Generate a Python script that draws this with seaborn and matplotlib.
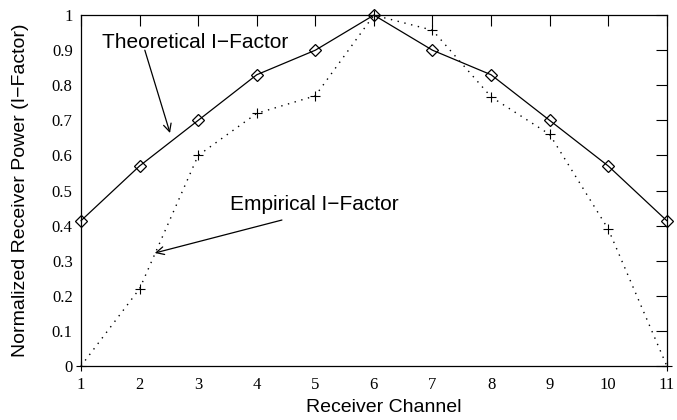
import matplotlib
matplotlib.use("Agg")
import matplotlib.pyplot as plt
import seaborn as sns
import pandas as pd

channels = [1, 2, 3, 4, 5, 6, 7, 8, 9, 10, 11]
theoretical = [0.414, 0.57, 0.70, 0.83, 0.90, 1.0, 0.90, 0.83, 0.70, 0.57, 0.414]
empirical = [0.0, 0.22, 0.60, 0.72, 0.77, 1.0, 0.957, 0.767, 0.66, 0.39, 0.0]
y_ticks = [0, 0.1, 0.2, 0.3, 0.4, 0.5, 0.6, 0.7, 0.8, 0.9, 1]
y_tick_labels = ["0", "0.1", "0.2", "0.3", "0.4", "0.5", "0.6", "0.7", "0.8", "0.9", "1"]

sns.set_theme(style="white")
plt.rcParams["font.family"] = ["Liberation Sans", "DejaVu Sans"]
plt.rcParams["text.color"] = "black"
plt.rcParams["axes.labelcolor"] = "black"
plt.rcParams["xtick.color"] = "black"
plt.rcParams["ytick.color"] = "black"

df_t = pd.DataFrame({"ch": channels, "val": theoretical})
df_e = pd.DataFrame({"ch": channels, "val": empirical})

fig = plt.figure(figsize=(6.77, 4.20), dpi=100)
ax = fig.add_axes([0.1196, 0.1286, 0.8654, 0.8354])

sns.lineplot(data=df_e, x="ch", y="val", ax=ax, color="black", linewidth=1.0,
             linestyle=(0, (1, 4)), marker="+", markersize=6.5, markeredgewidth=0.8,
             markeredgecolor="black", clip_on=False)
sns.lineplot(data=df_t, x="ch", y="val", ax=ax, color="black", linewidth=0.9,
             marker="D", markersize=6, markerfacecolor="none", markeredgecolor="black",
             markeredgewidth=0.9, clip_on=False)

ax.set_xlim(1, 11)
ax.set_ylim(0, 1)
ax.set_xticks(channels)
ax.set_xticklabels([str(c) for c in channels], family="Liberation Serif", fontsize=12)
ax.set_yticks(y_ticks)
ax.set_yticklabels(y_tick_labels, family="Liberation Serif", fontsize=12)
ax.tick_params(direction="in", top=True, right=True, length=8, width=0.8, color="black")
ax.tick_params(axis="x", pad=8)
ax.tick_params(axis="y", pad=6)
for sp in ax.spines.values():
    sp.set_color("black")
    sp.set_linewidth(0.9)

ax.set_xlabel("Receiver Channel", fontsize=14)
ax.set_ylabel("Normalized Receiver Power (I\u2212Factor)", fontsize=14)
ax.xaxis.set_label_coords(0.516, -0.095)
ax.yaxis.set_label_coords(-0.088, 0.5)

arrow = dict(arrowstyle="->", color="black", lw=0.9, shrinkA=0, shrinkB=0,
             mutation_scale=14)
ax.text(2.95, 0.923, "Theoretical I\u2212Factor", fontsize=15, ha="center", va="center")
ax.annotate("", xy=(2.52, 0.664), xytext=(2.09, 0.90), arrowprops=arrow)
ax.text(4.98, 0.459, "Empirical I\u2212Factor", fontsize=15, ha="center", va="center")
ax.annotate("", xy=(2.26, 0.322), xytext=(4.43, 0.416), arrowprops=arrow)

fig.savefig("out.png", dpi=100)
